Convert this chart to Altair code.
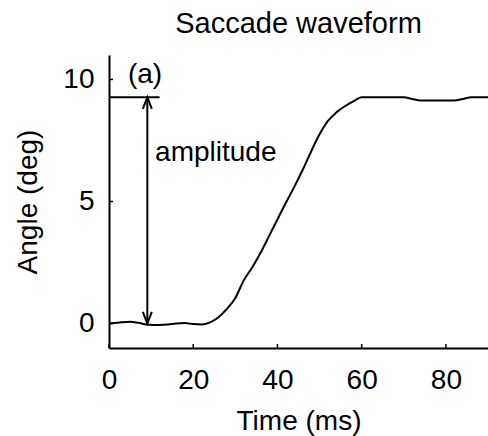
import altair as alt
import pandas as pd

# Saccade waveform samples (time in ms, angle in deg)
time_ms = [0, 2, 5, 7, 9.4, 12, 14, 16, 18, 20, 22, 24, 26, 28, 30, 32, 34, 36, 38, 40,
           42, 44, 46, 48, 50, 52, 54, 56, 58, 60, 62, 66, 70, 72, 74, 78, 82, 84, 86, 90]
angle_deg = [0.0, 0.03, 0.08, 0.03, -0.05, -0.06, -0.04, 0.0, 0.02, -0.02, -0.04, 0.05, 0.26,
             0.6, 1.05, 1.77, 2.3, 2.9, 3.58, 4.27, 4.95, 5.6, 6.3, 7.05, 7.75, 8.3, 8.65, 8.9,
             9.1, 9.27, 9.27, 9.27, 9.27, 9.2, 9.14, 9.14, 9.14, 9.2, 9.27, 9.27]

x_ticks = [0, 20, 40, 60, 80]
y_ticks = [0, 5, 10]

amp_x = [9.1]
amp_low = [0.0]
amp_high = [9.27]
amp_line_x = [0]
amp_line_x2 = [12]

label_a = ["(a)"]
label_a_pos = [(4.5, 9.86)]
label_amp = ["amplitude"]
label_amp_pos = [(10.95, 6.64)]

W, H = 379, 293
FONT = "Liberation Sans"

df = pd.DataFrame({"t": time_ms, "v": angle_deg})
xs = alt.Scale(domain=[0, 90], nice=False, zero=False)
ys = alt.Scale(domain=[-1, 11], nice=False, zero=False)

line = alt.Chart(df).mark_line(color="black", strokeWidth=2, interpolate="monotone").encode(
    x=alt.X("t:Q", scale=xs, title="Time (ms)",
            axis=alt.Axis(values=x_ticks, ticks=False, tickSize=0, labelPadding=18,
                          labelFlush=False, labelFontSize=28, titleFontSize=28, titlePadding=13,
                          domainColor="black", domainWidth=2, grid=False,
                          labelColor="black", titleColor="black", titleFontWeight="normal",
                          labelFont=FONT, titleFont=FONT)),
    y=alt.Y("v:Q", scale=ys, title="Angle (deg)",
            axis=alt.Axis(values=y_ticks, ticks=False, tickSize=0, labelPadding=15,
                          labelFlush=False, labelFontSize=28, titleFontSize=28, titlePadding=20,
                          domainColor="black", domainWidth=2, grid=False,
                          labelColor="black", titleColor="black", titleFontWeight="normal",
                          labelFont=FONT, titleFont=FONT)),
)

xt = alt.Chart(pd.DataFrame({"t": x_ticks})).mark_rule(color="black", strokeWidth=1.5).encode(
    x=alt.X("t:Q", scale=xs), y=alt.value(H), y2=alt.value(H - 4))
yt = alt.Chart(pd.DataFrame({"v": y_ticks})).mark_rule(color="black", strokeWidth=1.5).encode(
    y=alt.Y("v:Q", scale=ys), x=alt.value(0), x2=alt.value(4))

amp_df = pd.DataFrame({"x": amp_x, "lo": amp_low, "hi": amp_high})
amp_rule = alt.Chart(amp_df).mark_rule(color="black", strokeWidth=2).encode(
    x=alt.X("x:Q", scale=xs), y=alt.Y("lo:Q", scale=ys), y2="hi:Q")
top_line = alt.Chart(pd.DataFrame({"x": amp_line_x, "x2": amp_line_x2, "y": amp_high})).mark_rule(
    color="black", strokeWidth=2).encode(
    x=alt.X("x:Q", scale=xs), x2="x2:Q", y=alt.Y("y:Q", scale=ys))
head_up = alt.Chart(amp_df).mark_point(
    shape="M -1 2.6 L 0 0 L 1 2.6", filled=False, color="black", strokeWidth=2, size=81, opacity=1
).encode(x=alt.X("x:Q", scale=xs), y=alt.Y("hi:Q", scale=ys))
head_down = alt.Chart(amp_df).mark_point(
    shape="M -1 -2.6 L 0 0 L 1 -2.6", filled=False, color="black", strokeWidth=2, size=81, opacity=1
).encode(x=alt.X("x:Q", scale=xs), y=alt.Y("lo:Q", scale=ys))

txt_df = pd.DataFrame({
    "x": [label_a_pos[0][0], label_amp_pos[0][0]],
    "y": [label_a_pos[0][1], label_amp_pos[0][1]],
    "s": label_a + label_amp,
})
texts = alt.Chart(txt_df).mark_text(align="left", baseline="alphabetic", fontSize=28,
                                    font=FONT, color="black").encode(
    x=alt.X("x:Q", scale=xs), y=alt.Y("y:Q", scale=ys), text="s:N")

chart = alt.layer(line, xt, yt, top_line, amp_rule, head_up, head_down, texts).properties(
    width=W, height=H,
    title=alt.TitleParams("Saccade waveform", fontSize=29, font=FONT, fontWeight="normal",
                          color="black", anchor="middle", baseline="alphabetic", offset=23, dy=30),
    autosize=alt.AutoSizeParams(type="none"),
    padding={"left": 109, "top": 55, "right": 0, "bottom": 88},
    background="white",
).configure_view(stroke=None)

chart.save("out.html", embed_options={"renderer": "svg", "actions": False})
